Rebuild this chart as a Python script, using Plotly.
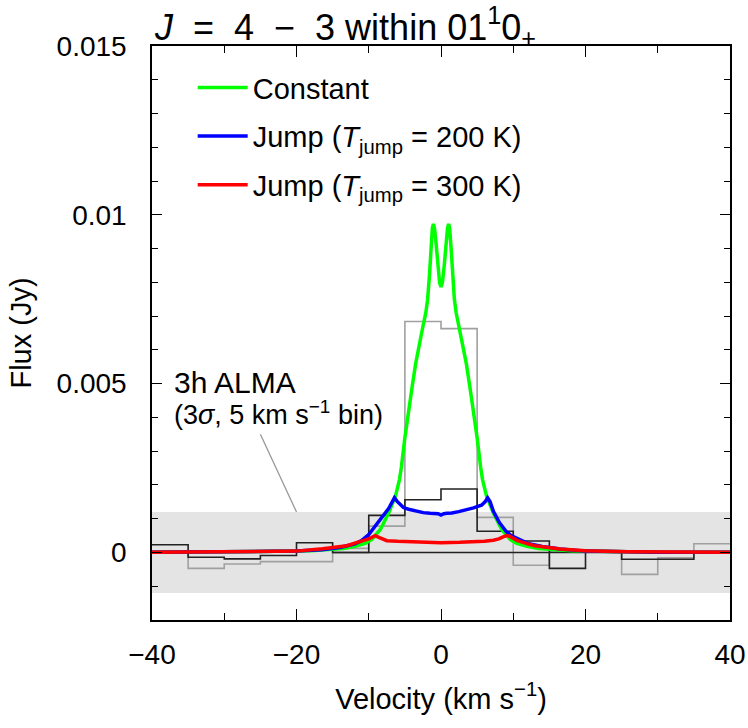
import plotly.graph_objects as go

# ---------------- data ----------------
bin_edges = [-40, -35, -30, -25, -20, -15, -10, -5, 0, 5, 10, 15, 20, 25, 30, 35, 40]
obs_black = [0.00023, -0.00014, -0.00019, -0.00009, 0.00029, 0.0, 0.0011, 0.00156,
             0.00188, 0.00063, 0.00034, -0.00047, 0.0, -0.0002, -0.0002, 0.0]
obs_gray = [0.0, -0.00047, -0.00034, -0.00027, -0.00027, 0.00012, 0.00078, 0.00684,
            0.00663, 0.00104, -0.00038, 0.00003, 0.00003, -0.00065, -0.00016, 0.00026]
baseline_x = [-15, 20]
baseline_y = [0.0, 0.0]

v_const = [-40, -30, -25, -20, -18, -15.1, -13.5, -11.9, -10.5, -9.6, -8.4, -7.25, -6.3,
           -5.75, -5.5, -5.0, -4.5, -4.0, -3.5, -3.0, -2.5, -2.1, -1.85, -1.6, -1.4, -1.2,
           -1.05, -0.9, -0.7, -0.45, -0.2, 0, 0.2, 0.45, 0.7, 0.9, 1.05, 1.2, 1.4, 1.6,
           1.85, 2.1, 2.5, 3.0, 3.5, 4.0, 4.5, 5.0, 5.5, 5.75, 6.3, 7.25, 8.4, 9.6, 10.5,
           11.9, 13.5, 15.1, 18, 20, 25, 30, 40]
f_const = [0.000005, 0.00001, 0.00002, 0.00004, 0.00005, 0.00009, 0.00012, 0.00018,
           0.00027, 0.00038, 0.00068, 0.00117, 0.00167, 0.00216, 0.0025, 0.0034, 0.0042,
           0.0049, 0.0056, 0.0062, 0.0067, 0.0071, 0.0075, 0.0082, 0.0090, 0.0096,
           0.00973, 0.0096, 0.0092, 0.0085, 0.0080, 0.00786, 0.0080, 0.0085, 0.0092,
           0.0096, 0.00973, 0.0096, 0.0090, 0.0082, 0.0075, 0.0071, 0.0067, 0.0062,
           0.0056, 0.0049, 0.0042, 0.0034, 0.0025, 0.00216, 0.00167, 0.00117, 0.00068,
           0.00038, 0.00027, 0.00018, 0.00012, 0.00009, 0.00005, 0.00004, 0.00002,
           0.00001, 0.000005]

v_j200 = [-40, -30, -25, -20, -16.5, -14, -12, -11, -10, -9, -8, -7.25, -6.8, -6.45, -6.1,
          -5.6, -5.2, -4.5, -3.5, -2.45, -1.5, -0.8, -0.4, 0, 0.4, 0.8, 1.5, 2.45, 3.5,
          4.5, 5.2, 5.6, 6.1, 6.45, 6.8, 7.25, 8.1, 9.0, 9.7, 11, 12, 14, 16.5, 20, 25,
          30, 40]
f_j200 = [0.000005, 0.00001, 0.00002, 0.00004, 0.00008, 0.00015, 0.00025, 0.00035,
          0.00053, 0.0008, 0.00107, 0.0013, 0.00148, 0.00162, 0.00152, 0.0014, 0.00133,
          0.00128, 0.00122, 0.00118, 0.00116, 0.00114, 0.00115, 0.00111, 0.00115,
          0.00116, 0.00117, 0.00121, 0.00126, 0.00132, 0.00137, 0.0014, 0.0015,
          0.00162, 0.0015, 0.00122, 0.00088, 0.00063, 0.0005, 0.00036, 0.00027,
          0.00018, 0.0001, 0.00004, 0.00002, 0.00001, 0.000005]

v_j300 = [-40, -30, -25.7, -20, -16.4, -13, -11.7, -10.5, -10, -9.5, -9.1, -8.6, -8, -7.5,
          -6, -4.75, -2.6, 0, 2.6, 4.75, 6, 7.25, 8, 8.6, 9.1, 9.5, 10, 10.5, 11.9, 13,
          16.5, 20, 25.7, 30, 40]
f_j300 = [0.000005, 0.00001, 0.00002, 0.00004, 0.00011, 0.0002, 0.00029, 0.00036,
          0.0004, 0.00046, 0.0005, 0.00045, 0.00038, 0.00035, 0.00033, 0.00032, 0.0003,
          0.00029, 0.0003, 0.00031, 0.00033, 0.00036, 0.0004, 0.00046, 0.0005, 0.00048,
          0.00042, 0.00036, 0.00026, 0.0002, 0.0001, 0.00005, 0.00002, 0.00001,
          0.000005]

alma_3sigma = 0.0012
alma_pointer_x = [-25, -20]
alma_pointer_y = [0.0035, 0.0012]

series_names = ["Constant",
                "Jump (<i>T</i><sub>jump</sub> = 200 K)",
                "Jump (<i>T</i><sub>jump</sub> = 300 K)"]

# ---------------- figure ----------------
FONT = "Liberation Sans, sans-serif"
fig = go.Figure()


def step_xy(edges, vals):
    return list(edges), list(vals) + [vals[-1]]


bx, by = step_xy(bin_edges, obs_gray)
fig.add_trace(go.Scatter(x=bx, y=by, mode="lines", line=dict(color="#a0a0a0", width=1.6, shape="hv"),
                         showlegend=False, hoverinfo="skip"))
bx, by = step_xy(bin_edges, obs_black)
fig.add_trace(go.Scatter(x=bx, y=by, mode="lines", line=dict(color="#222222", width=1.6, shape="hv"),
                         showlegend=False, hoverinfo="skip"))
fig.add_trace(go.Scatter(x=baseline_x, y=baseline_y, mode="lines", line=dict(color="#222222", width=1.6),
                         showlegend=False, hoverinfo="skip"))
fig.add_trace(go.Scatter(x=alma_pointer_x, y=alma_pointer_y, mode="lines",
                         line=dict(color="#999999", width=1.3), showlegend=False, hoverinfo="skip"))

for name, vx, fy, col, grp in [(series_names[0], v_const, f_const, "#00ff00", "a"),
                               (series_names[1], v_j200, f_j200, "#0000ff", "b"),
                               (series_names[2], v_j300, f_j300, "#ff0000", "c")]:
    fig.add_trace(go.Scatter(x=vx, y=fy, mode="lines", name=name, legendgroup=grp,
                             line=dict(color=col, width=3.5)))

fig.add_shape(type="rect", xref="paper", x0=0, x1=1, yref="y", y0=-alma_3sigma, y1=alma_3sigma,
              fillcolor="#e4e4e4", line=dict(width=0), layer="below")

fig.add_annotation(x=-37.3, y=0.00503, xref="x", yref="y", text="3h ALMA", showarrow=False,
                   xanchor="left", yanchor="middle", font=dict(family=FONT, size=30, color="black"))
fig.add_annotation(x=-37.3, y=0.00412, xref="x", yref="y",
                   text="(3<i>σ</i>, 5 km s<sup>−1</sup> bin)", showarrow=False,
                   xanchor="left", yanchor="middle", font=dict(family=FONT, size=27, color="black"))

axis_common = dict(showline=True, linecolor="black", linewidth=1.5, mirror="allticks",
                   ticks="inside", tickcolor="black", tickwidth=1.3, showgrid=False,
                   zeroline=False, tickfont=dict(family=FONT, size=28, color="black"))

fig.update_xaxes(range=[-40, 40], tickvals=[-40, -20, 0, 20, 40],
                 ticktext=["−40", "−20", "0", "20", "40"], ticklen=11,
                 minor=dict(dtick=10, tick0=0, ticklen=7, ticks="inside", tickcolor="black", tickwidth=1.3),
                 ticklabelstandoff=9,
                 title=dict(text="Velocity (km s<sup>−1</sup>)", font=dict(family=FONT, size=29, color="black"),
                            standoff=19),
                 **axis_common)
fig.update_yaxes(range=[-0.002, 0.015], tickvals=[0, 0.005, 0.01, 0.015],
                 ticktext=["0", "0.005", "0.01", "0.015"], ticklen=10,
                 minor=dict(dtick=0.001, tick0=0, ticklen=6, ticks="inside", tickcolor="black", tickwidth=1.3),
                 ticklabelstandoff=18,
                 title=dict(text="Flux (Jy)", font=dict(family=FONT, size=29, color="black"), standoff=16),
                 **axis_common)

fig.update_layout(
    width=748, height=728,
    margin=dict(l=152, r=18, t=46, b=108, autoexpand=False),
    paper_bgcolor="white", plot_bgcolor="white",
    title=dict(text="<i>J</i>&nbsp; = &nbsp;4&nbsp; − &nbsp;3 within 01<sup>1</sup>0<sub>+</sub>",
               x=155 / 748, xanchor="left", xref="container",
               y=1 - 27 / 728, yanchor="middle", yref="container",
               font=dict(family=FONT, size=36, color="black")),
    legend=dict(x=0.0704, y=0.972, xanchor="left", yanchor="top", bgcolor="rgba(0,0,0,0)",
                font=dict(family=FONT, size=29, color="black"), traceorder="grouped",
                tracegroupgap=8, itemwidth=50),
    showlegend=True,
)

fig.write_html("out.html", config={"displayModeBar": False},
               post_script="document.body.style.margin='0px';document.body.style.overflow='hidden';")
